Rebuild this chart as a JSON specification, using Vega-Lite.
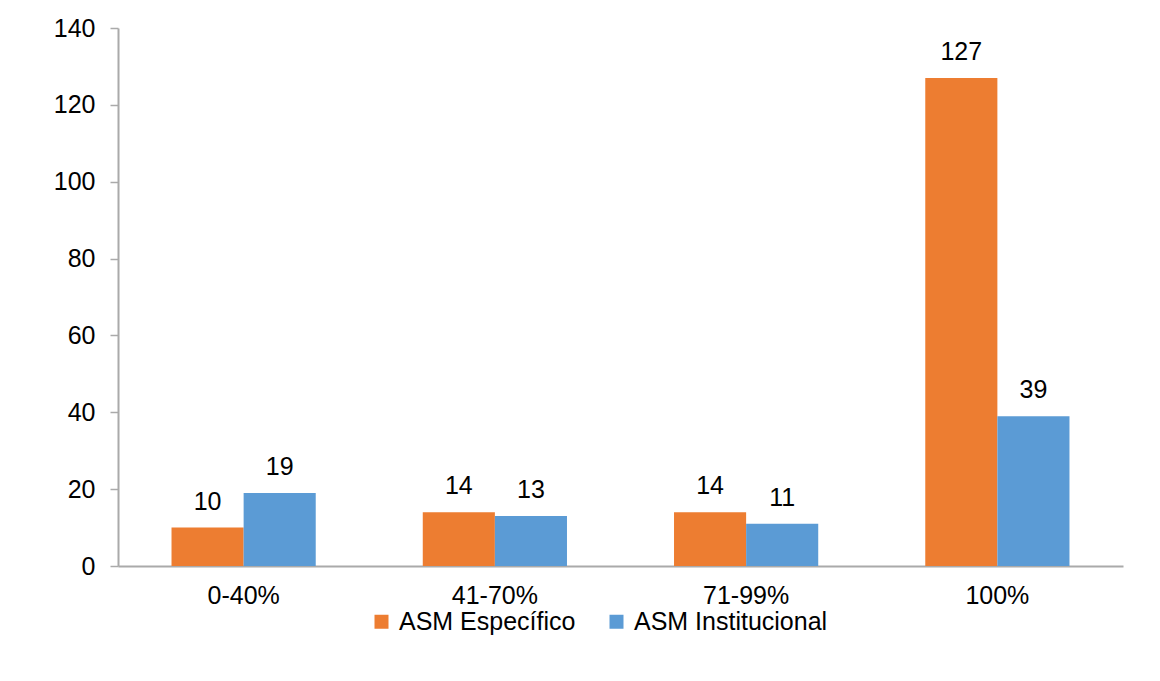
{
  "$schema": "https://vega.github.io/schema/vega-lite/v6.json",
  "autosize": {"type": "none"},
  "width": 1005,
  "height": 538,
  "padding": {"left": 118, "top": 28, "right": 37, "bottom": 115},
  "background": "white",
  "config": {
    "view": {"stroke": null},
    "font": "Liberation Sans",
    "text": {"font": "Liberation Sans"}
  },
  "data": {
    "values": [
      {"rango": "0-40%", "serie": "ASM Específico", "valor": 10},
      {"rango": "0-40%", "serie": "ASM Institucional", "valor": 19},
      {"rango": "41-70%", "serie": "ASM Específico", "valor": 14},
      {"rango": "41-70%", "serie": "ASM Institucional", "valor": 13},
      {"rango": "71-99%", "serie": "ASM Específico", "valor": 14},
      {"rango": "71-99%", "serie": "ASM Institucional", "valor": 11},
      {"rango": "100%", "serie": "ASM Específico", "valor": 127},
      {"rango": "100%", "serie": "ASM Institucional", "valor": 39}
    ]
  },
  "encoding": {
    "x": {
      "field": "rango",
      "type": "nominal",
      "sort": ["0-40%", "41-70%", "71-99%", "100%"],
      "scale": {"paddingInner": 0.426, "paddingOuter": 0.213},
      "axis": {
        "title": null,
        "labelAngle": 0,
        "labelFontSize": 25,
        "labelColor": "#000000",
        "labelFont": "Liberation Sans",
        "labelPadding": 17,
        "ticks": false,
        "domainColor": "#aaaaaa",
        "domainWidth": 2
      }
    },
    "xOffset": {
      "field": "serie",
      "type": "nominal",
      "sort": ["ASM Específico", "ASM Institucional"],
      "scale": {"paddingInner": 0, "paddingOuter": 0}
    },
    "y": {
      "field": "valor",
      "type": "quantitative",
      "scale": {"domain": [0, 140], "nice": false},
      "axis": {
        "title": null,
        "values": [0, 20, 40, 60, 80, 100, 120, 140],
        "grid": false,
        "labelFontSize": 25,
        "labelColor": "#000000",
        "labelFont": "Liberation Sans",
        "labelPadding": 15,
        "tickSize": 8,
        "tickColor": "#aaaaaa",
        "domainColor": "#aaaaaa",
        "domainWidth": 2,
        "tickWidth": 1.5
      }
    }
  },
  "layer": [
    {
      "mark": {"type": "bar"},
      "encoding": {
        "color": {
          "field": "serie",
          "type": "nominal",
          "sort": ["ASM Específico", "ASM Institucional"],
          "scale": {"domain": ["ASM Específico", "ASM Institucional"], "range": ["#ED7D31", "#5B9BD5"]},
          "legend": {
            "title": null,
            "orient": "none",
            "direction": "horizontal",
            "legendX": 251,
            "legendY": 581,
            "symbolType": "square",
            "symbolSize": 196,
            "symbolStrokeWidth": 0,
            "symbolOpacity": 1,
            "labelFontSize": 25,
            "labelColor": "#000000",
            "labelFont": "Liberation Sans",
            "labelOffset": 5,
            "columnPadding": 28,
            "labelLimit": 400
          }
        }
      }
    },
    {
      "mark": {"type": "text", "baseline": "alphabetic", "dy": -18, "fontSize": 25, "color": "#000000", "font": "Liberation Sans"},
      "encoding": {
        "text": {"field": "valor", "type": "quantitative"}
      }
    }
  ]
}
